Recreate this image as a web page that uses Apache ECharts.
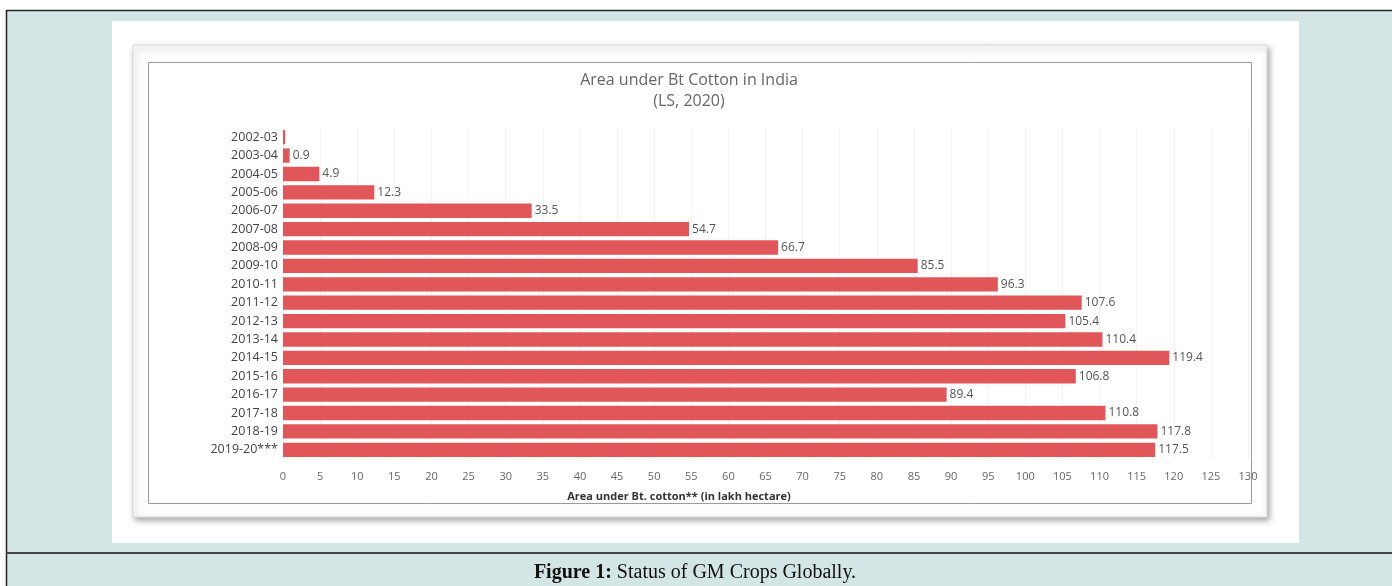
<!DOCTYPE html>
<html>
<head>
<meta charset="utf-8">
<script src="https://cdn.jsdelivr.net/npm/echarts@6/dist/echarts.min.js"></script>
<style>
html,body{margin:0;padding:0;background:#ffffff;}
#c{width:1392px;height:586px;}
</style>
</head>
<body>
<div id="c"></div>
<script>
const categories = ['2002-03','2003-04','2004-05','2005-06','2006-07','2007-08','2008-09','2009-10','2010-11','2011-12','2012-13','2013-14','2014-15','2015-16','2016-17','2017-18','2018-19','2019-20***'];
const areaValues = [0.3, 0.9, 4.9, 12.3, 33.5, 54.7, 66.7, 85.5, 96.3, 107.6, 105.4, 110.4, 119.4, 106.8, 89.4, 110.8, 117.8, 117.5];
const valueLabels = ['', '0.9', '4.9', '12.3', '33.5', '54.7', '66.7', '85.5', '96.3', '107.6', '105.4', '110.4', '119.4', '106.8', '89.4', '110.8', '117.8', '117.5'];
const chartTitle = 'Area under Bt Cotton in India';
const chartSubtitle = '(LS, 2020)';
const axisName = 'Area under Bt. cotton** (in lakh hectare)';
const captionBold = 'Figure 1:';
const captionText = ' Status of GM Crops Globally.';

const chart = echarts.init(document.getElementById('c'), null, {renderer:'canvas'});
const font = "'Open Sans', 'Noto Sans', sans-serif";

const option = {
  animation: false,
  backgroundColor: '#ffffff',
  graphic: [
    {type:'rect', z:-10, shape:{x:6,y:10,width:1392,height:586}, style:{fill:'#d3e5e4'}},
    {type:'line', z:-9, shape:{x1:6,y1:10.5,x2:1392,y2:10.5}, style:{stroke:'#222',lineWidth:1.5}},
    {type:'line', z:-9, shape:{x1:6.5,y1:10,x2:6.5,y2:586}, style:{stroke:'#222',lineWidth:1.5}},
    {type:'line', z:-9, shape:{x1:6,y1:553,x2:1392,y2:553}, style:{stroke:'#444',lineWidth:2}},
    {type:'rect', z:-8, shape:{x:112,y:21,width:1187,height:522}, style:{fill:'#ffffff'}},
    {type:'rect', z:-7, shape:{x:133,y:45,width:1134,height:472},
      style:{fill:'#fdfdfd', stroke:'#dcdcdc', lineWidth:1, shadowBlur:6, shadowOffsetX:2, shadowOffsetY:3, shadowColor:'rgba(0,0,0,0.35)'}},
    {type:'rect', z:-6, shape:{x:148.5,y:62.5,width:1103,height:441}, style:{fill:'#ffffff', stroke:'#9a9a9a', lineWidth:1}},
    {type:'text', z:5, x:689, y:80, style:{text:chartTitle, fill:'#666', font:"16px " + font, textAlign:'center', textVerticalAlign:'middle'}},
    {type:'text', z:5, x:689, y:101, style:{text:chartSubtitle, fill:'#666', font:"16px " + font, textAlign:'center', textVerticalAlign:'middle'}},
    {type:'text', z:5, x:679, y:497, style:{text:axisName, fill:'#333', font:"bold 11px " + font, textAlign:'center', textVerticalAlign:'middle'}},
    {type:'text', z:5, x:695, y:573, style:{
      text:'{b|' + captionBold + '}{r|' + captionText + '}',
      textAlign:'center', textVerticalAlign:'middle',
      rich:{
        b:{fontFamily:"'Liberation Serif', 'DejaVu Serif', serif", fontWeight:'bold', fontSize:20, fill:'#111'},
        r:{fontFamily:"'Liberation Serif', 'DejaVu Serif', serif", fontSize:20, fill:'#111'}
      }}}
  ],
  grid: {left:283, right:144, top:128, bottom:127, containLabel:false},
  xAxis: {
    type:'value', min:0, max:130, interval:5,
    axisLine:{show:false}, axisTick:{show:false},
    splitLine:{show:true, lineStyle:{color:'#f2f2f2', width:1}},
    axisLabel:{color:'#666', fontSize:11, fontFamily:font, margin:12}
  },
  yAxis: {
    type:'category', data:categories, inverse:true,
    axisLine:{show:false}, axisTick:{show:false}, splitLine:{show:false},
    axisLabel:{color:'#444', fontSize:12.5, fontFamily:font, margin:5}
  },
  series: [{
    type:'bar', data:areaValues, barCategoryGap:'22%',
    itemStyle:{color:'#e15759'},
    label:{show:true, position:'right', distance:3, color:'#555', fontSize:12, fontFamily:font,
      formatter: p => valueLabels[p.dataIndex]}
  }]
};
chart.setOption(option);
</script>
</body>
</html>
